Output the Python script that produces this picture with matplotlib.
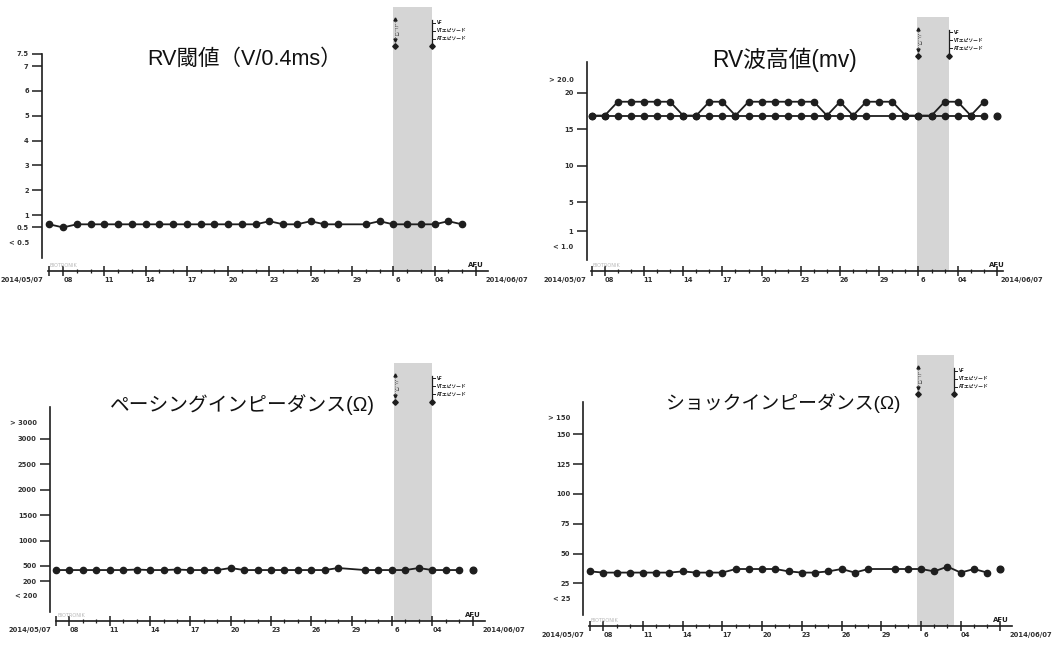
import numpy as np
import matplotlib
matplotlib.use('Agg')
import matplotlib.pyplot as plt
from matplotlib.transforms import blended_transform_factory

plt.rcParams['font.family'] = ['Noto Sans CJK JP', 'DejaVu Sans']

#--- データ (2014/05/07 = 0日目)
nan = np.nan
days = np.arange(31)
last_day = 31

rv_threshold = [0.625, 0.5, 0.625, 0.625, 0.625, 0.625, 0.625, 0.625, 0.625, 0.625,
                0.625, 0.625, 0.625, 0.625, 0.625, 0.625, 0.75, 0.625, 0.625, 0.75,
                0.625, 0.625, nan, 0.625, 0.75, 0.625, 0.625, 0.625, 0.625, 0.75, 0.625]

rv_wave_low = [16.9] * 22 + [nan] + [16.9] * 8
rv_wave_high = [16.9, 16.9, 18.8, 18.8, 18.8, 18.8, 18.8, 16.9, 16.9, 18.8,
                18.8, 16.9, 18.8, 18.8, 18.8, 18.8, 18.8, 18.8, 16.9, 18.8,
                16.9, 18.8, 18.8, 18.8, 16.9, 16.9, 16.9, 18.8, 18.8, 16.9, 18.8]
rv_wave_last = 16.9

pacing_imp = [420, 420, 420, 420, 420, 420, 430, 420, 420, 430,
              420, 420, 420, 460, 420, 420, 420, 420, 420, 420,
              420, 460, nan, 420, 420, 420, 420, 460, 420, 420, 420]
pacing_imp_last = 420

shock_imp = [35, 34, 34, 34, 34, 34, 34, 35, 34, 34,
             34, 37, 37, 37, 37, 35, 34, 34, 35, 37,
             34, 37, nan, 37, 37, 37, 35, 39, 34, 37, 34]
shock_imp_last = 37

x_tick_days = [1, 4, 7, 10, 13, 16, 19, 22, 25, 28]
x_tick_labels = ['08', '11', '14', '17', '20', '23', '26', '29', '6', '04']
start_label = '2014/05/07'
end_label = '2014/06/07'
event_labels = ['VF', 'VTエピソード', 'ATエピソード']

INK = '#1e1e1e'
W, H = 1056, 645
fig = plt.figure(figsize=(W / 100, H / 100), dpi=100)


def px_axes(l, t, r, b):
    return fig.add_axes([l / W, 1 - b / H, (r - l) / W, (b - t) / H])


panels = [
    dict(title='RV閾値（V/0.4ms）', title_xy=(245, 59), title_size=15.5, box=(42, 7, 490, 270.7),
         xlim=(-0.53, 32.03), ylim=(-1.243, 9.377), xspine=(-0.09, 31.88), yspine=(-0.73, 7.5),
         band=(25.0, 27.8),
         yticks=[7.5, 7, 6, 5, 4, 3, 2, 1, 0.5],
         ylabels=['7.5', '7', '6', '5', '4', '3', '2', '1', '0.5'],
         extra=[('< 0.5', -0.13)],
         series=[rv_threshold], last=None),
    dict(title='RV波高値(mv)', title_xy=(784, 60), title_size=16.4, box=(586.7, 16.7, 1005, 270.7),
         xlim=(-0.38, 31.62), ylim=(-4.41, 30.48), xspine=(-0.05, 31.5), yspine=(-2.94, 24.26),
         band=(24.9, 27.35),
         yticks=[20, 15, 10, 5, 1], ylabels=['20', '15', '10', '5', '1'],
         extra=[('> 20.0', 21.8), ('< 1.0', -1.15)],
         series=[rv_wave_low, rv_wave_high], last=rv_wave_last),
    dict(title='ペーシングインピーダンス(Ω)', title_xy=(242, 405), title_size=14.2,
         box=(50, 362.7, 490, 620.7),
         xlim=(-0.45, 32.3), ylim=(-577, 4502), xspine=(-0.02, 31.94), yspine=(-411, 3636),
         band=(25.15, 28.0),
         yticks=[3000, 2500, 2000, 1500, 1000, 500, 200],
         ylabels=['3000', '2500', '2000', '1500', '1000', '500', '200'],
         extra=[('> 3000', 3321), ('< 200', -91)],
         series=[pacing_imp], last=pacing_imp_last),
    dict(title='ショックインピーダンス(Ω)', title_xy=(783, 403), title_size=13.6,
         box=(583.3, 355, 1015, 626),
         xlim=(-0.51, 32.1), ylim=(-10.8, 216.5), xspine=(-0.05, 31.87), yspine=(-1.6, 177.3),
         band=(24.7, 27.5),
         yticks=[150, 125, 100, 75, 50, 25], ylabels=['150', '125', '100', '75', '50', '25'],
         extra=[('> 150', 163.4), ('< 25', 11.6)],
         series=[shock_imp], last=shock_imp_last),
]

small = dict(fontsize=4.9, fontweight='bold', color='#303030', family='DejaVu Sans')

for p in panels:
    l, t, r, b = p['box']
    ax = px_axes(l, t, r, b)
    ax.set_xlim(*p['xlim'])
    ax.set_ylim(*p['ylim'])
    ax.patch.set_alpha(0)
    for s in ['top', 'right']:
        ax.spines[s].set_visible(False)
    for s in ['left', 'bottom']:
        ax.spines[s].set_linewidth(1.2)
        ax.spines[s].set_color(INK)
    ax.spines['left'].set_bounds(*p['yspine'])
    ax.spines['bottom'].set_bounds(*p['xspine'])

    #--① 影付きの期間
    ax.axvspan(*p['band'], color='#d5d5d5', lw=0, zorder=0)

    #--② y軸
    ax.set_yticks(p['yticks'])
    ax.set_yticklabels(p['ylabels'], **small)
    ax.tick_params(axis='y', length=7, width=1.1, color=INK, pad=2.5)
    ytr = blended_transform_factory(ax.transAxes, ax.transData)
    for txt, yv in p['extra']:
        ax.annotate(txt, xy=(0, yv), xycoords=ytr, xytext=(-9.5, 0), textcoords='offset points',
                    ha='right', va='center', **small)

    #--③ x軸
    ax.set_xticks(x_tick_days + [0, last_day])
    ax.set_xticklabels([])
    ax.set_xticks(np.arange(0, last_day + 1), minor=True)
    ax.tick_params(axis='x', which='major', direction='inout', length=7, width=1.1, color=INK)
    ax.tick_params(axis='x', which='minor', direction='inout', length=3.5, width=0.9, color=INK)
    xtr = blended_transform_factory(ax.transData, ax.transAxes)
    for d, lbl in zip(x_tick_days, x_tick_labels):
        ax.annotate(lbl, xy=(d + 0.35, 0), xycoords=xtr, xytext=(0, -6.8),
                    textcoords='offset points', ha='center', va='center', **small)
    ax.annotate(start_label, xy=(p['xspine'][0], 0), xycoords=xtr, xytext=(-3.5, -6.8),
                textcoords='offset points', ha='right', va='center', **small)
    ax.annotate(end_label, xy=(p['xspine'][1], 0), xycoords=xtr, xytext=(-2, -6.8),
                textcoords='offset points', ha='left', va='center', **small)
    ax.annotate('AFU', xy=(last_day, 0), xycoords=xtr, xytext=(0, 4),
                textcoords='offset points', ha='center', va='center',
                fontsize=5, fontweight='bold', color=INK, family='DejaVu Sans')
    ax.annotate('BIOTRONIK', xy=(p['xspine'][0], 0), xycoords=xtr, xytext=(1, 3.6),
                textcoords='offset points', ha='left', va='center',
                fontsize=3.6, color='#b8b8b8', family='DejaVu Sans')

    #--④ データ
    for vals in p['series']:
        v = np.array(vals, dtype=float)
        m = ~np.isnan(v)
        ax.plot(days[m], v[m], '-o', color=INK, lw=1.3, ms=4.5, zorder=3)
    if p['last'] is not None:
        ax.plot([last_day], [p['last']], 'o', color=INK, ms=4.8, zorder=3)

    #--⑤ イベントマーカー
    hpx = b - t
    def fy(off):
        return 1 - off / hpx
    b0, b1 = p['band']
    ax.plot([b0 + 0.1, b0 + 0.1], [fy(12), fy(39)], transform=xtr, color='#555555', lw=0.6,
            ls=':', clip_on=False)
    ax.plot([b0 + 0.1], [fy(12)], '^', transform=xtr, color=INK, ms=2.2, clip_on=False)
    ax.plot([b0 + 0.1], [fy(33)], 'v', transform=xtr, color=INK, ms=2.2, clip_on=False)
    ax.plot([b0 + 0.1], [fy(39)], 'D', transform=xtr, color=INK, ms=2.8, clip_on=False)
    for ch, off in zip(['ハ', 'ワ'], [19, 26]):
        ax.text(b0 + 0.1, fy(off), ch, transform=xtr, fontsize=3.4, color='#444444',
                ha='center', va='center', rotation=-90)
    ax.plot([b1, b1], [fy(13), fy(39)], transform=xtr, color=INK, lw=0.9, clip_on=False)
    ax.plot([b1], [fy(39)], 'D', transform=xtr, color=INK, ms=2.8, clip_on=False)
    for txt, off in zip(event_labels, [15.5, 23.5, 31.5]):
        ax.plot([b1, b1 + 0.2], [fy(off), fy(off)], transform=xtr, color=INK, lw=0.7)
        ax.text(b1 + 0.3, fy(off), txt, transform=xtr, fontsize=3.4, color=INK,
                fontweight='bold', ha='left', va='center')

    #--⑥ タイトル
    fig.text(p['title_xy'][0] / W, 1 - p['title_xy'][1] / H, p['title'],
             fontsize=p['title_size'], family=['Liberation Sans', 'Noto Sans CJK JP'],
             color='#111111', ha='center', va='center')

fig.savefig('out.png', dpi=100)
